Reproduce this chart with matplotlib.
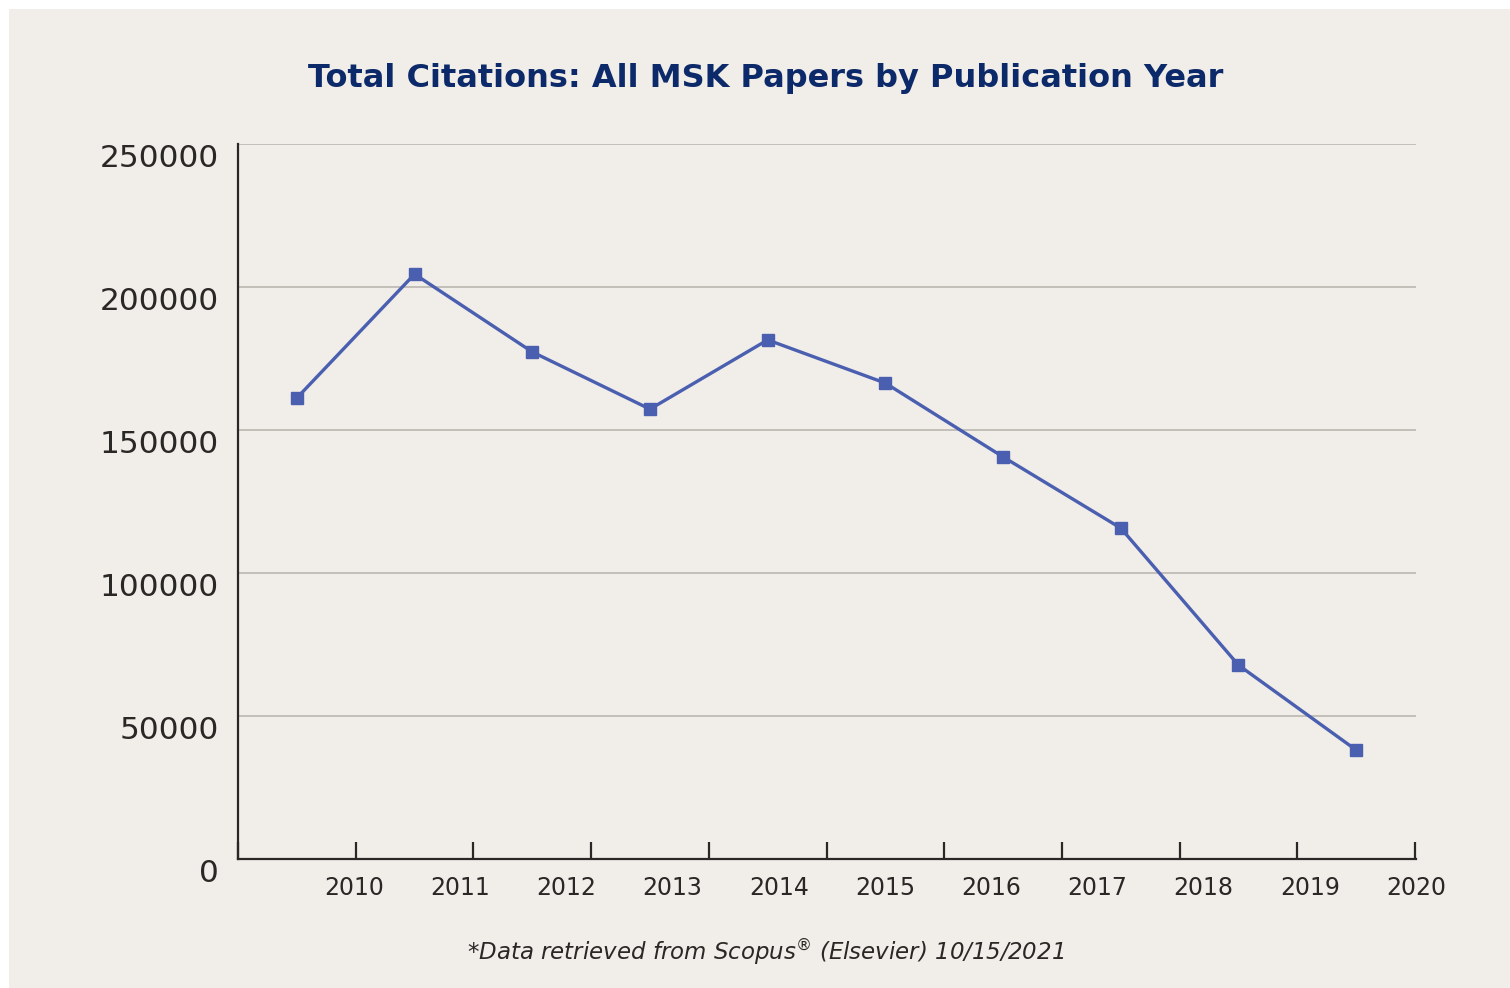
import matplotlib
matplotlib.use("Agg")
import matplotlib.pyplot as plt
import matplotlib.transforms as mtransforms
from matplotlib.patches import Rectangle

years = ["2010", "2011", "2012", "2013", "2014", "2015", "2016", "2017", "2018", "2019"]
citations = [161200, 204500, 177300, 157300, 181500, 166400, 140600, 115700, 67800, 38100]
xtick_labels = ["2010", "2011", "2012", "2013", "2014", "2015", "2016", "2017", "2018", "2019", "2020"]
yticks = [0, 50000, 100000, 150000, 200000, 250000]

BG = "#f1ede8"
NAVY = "#0c2a6a"
LINE = "#4a5fb0"
TXT = "#2a2826"
GRID = "#bfbbb5"

fig = plt.figure(figsize=(15.10, 9.88), dpi=100)
fig.patch.set_facecolor("white")
fig.patches.append(Rectangle((9/1510, 0), 1 - 9/1510, 1 - 9/988, transform=fig.transFigure,
                             facecolor=BG, edgecolor="none", zorder=-10))

ax = fig.add_axes([238/1510, 1 - 859/988, (1416 - 238)/1510, (859 - 144)/988])
ax.set_facecolor(BG)

xs = [i + 0.5 for i in range(len(years))]
ax.plot(xs, citations, color=LINE, lw=2.4, marker="s", markersize=8.5,
        markerfacecolor=LINE, markeredgecolor=LINE, zorder=3, clip_on=False)

ax.set_xlim(0, 10)
ax.set_ylim(0, 250000)

ax.set_yticks(yticks)
ax.set_yticklabels([str(v) for v in yticks])
ax.tick_params(axis="y", length=0, pad=14, labelsize=22.5, labelcolor=TXT)
off = mtransforms.ScaledTranslation(0, -11/100, fig.dpi_scale_trans)
for lab in ax.get_yticklabels():
    lab.set_transform(lab.get_transform() + off)

for v in yticks[1:]:
    ax.axhline(v, color=GRID, lw=1.3, zorder=1)

# major tick marks at category boundaries
ax.set_xticks(range(0, 11))
ax.set_xticklabels([])
ax.tick_params(axis="x", which="major", direction="in", length=12, width=1.6, color=TXT)
# labels placed evenly
label_pos = [(354 - 238)/117.8 + i*((1417 - 354)/117.8)/10 for i in range(11)]
ax.set_xticks(label_pos, minor=True)
ax.set_xticklabels(xtick_labels, minor=True)
ax.tick_params(axis="x", which="minor", length=0, pad=12, labelsize=17, labelcolor=TXT)

for s in ["top", "right"]:
    ax.spines[s].set_visible(False)
for s in ["left", "bottom"]:
    ax.spines[s].set_color(TXT)
    ax.spines[s].set_linewidth(1.6)

fig.text(766/1510, 1 - 78/988, "Total Citations: All MSK Papers by Publication Year",
         ha="center", va="center", fontsize=23, fontweight="bold", color=NAVY)
fig.text(766/1510, 1 - 952/988, "*Data retrieved from Scopus$^{®}$ (Elsevier) 10/15/2021",
         ha="center", va="center", fontsize=16.5, style="italic", color=TXT)

fig.savefig("out.png", dpi=100, facecolor=fig.get_facecolor())
